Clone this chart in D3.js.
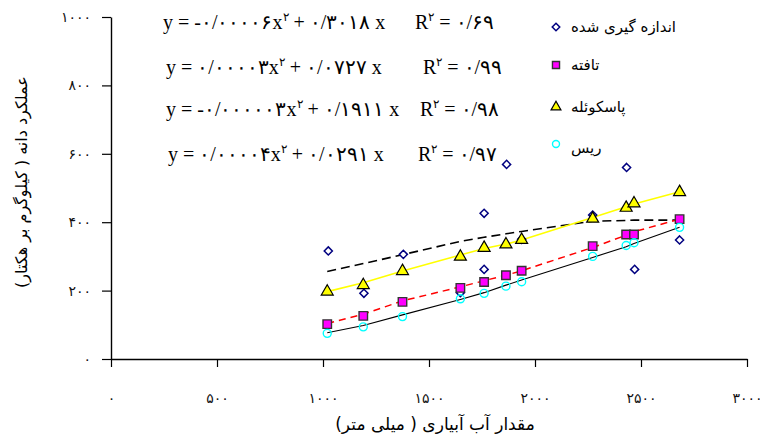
<!DOCTYPE html>
<html>
<head>
<meta charset="utf-8">
<script src="https://cdn.jsdelivr.net/npm/d3@7"></script>
<style>
  body { margin: 0; background: #fff; }
  svg { display: block; }
</style>
</head>
<body>
<div id="chart"></div>
<script>
// irrigation water (mm) shared by the three models
const irrigation = [1020, 1190, 1375, 1648, 1760, 1863, 1937, 2272, 2430, 2467, 2682];
const tafteh = [102, 126, 167, 208, 225, 245, 258, 330, 364, 364, 409];
const pascoele = [200, 219, 260, 302, 328, 338, 351, 413, 445, 458, 491];
const ris = [75, 94, 124, 176, 192, 213, 226, 300, 332, 340, 385];

// measured yield has its own points
const measuredX = [1025, 1193, 1379, 1648, 1760, 1760, 1866, 1937, 2272, 2432, 2470, 2682];
const measuredY = [316, 192, 306, 194, 426, 262, 569, 350, 421, 560, 262, 348];

// trend lines, at the irrigation values
const measuredFit = [256, 279, 305, 344, 356, 366, 373, 403, 405, 406, 406];
const taftehFit = [104, 131, 170, 211, 229, 245, 258, 326, 362, 372, 409];
const pascoeleFit = [197, 223, 257, 304, 323, 336, 348, 414, 445, 453, 489];
const risFit = [77, 98, 129, 174, 194, 216, 231, 297, 328, 338, 385];

const xTicks = [0, 500, 1000, 1500, 2000, 2500, 3000];
const yTicks = [0, 200, 400, 600, 800, 1000];

const legendLabels = ["اندازه گیری شده", "تافته", "پاسکوئله", "ریس"];
const eqA = ["-۰/۰۰۰۰۶", "۰/۰۰۰۰۳", "-۰/۰۰۰۰۰۳", "۰/۰۰۰۰۴"];
const eqB = ["۰/۳۰۱۸", "۰/۰۷۲۷", "۰/۱۹۱۱", "۰/۰۲۹۱"];
const rSquared = ["۰/۶۹", "۰/۹۹", "۰/۹۸", "۰/۹۷"];

const faDigits = "۰۱۲۳۴۵۶۷۸۹";
const fa = (v) => String(v).replace(/\d/g, (d) => faDigits[+d]);

const width = 760;
const height = 439;
const persian = "'DejaVu Sans', 'Noto Sans', sans-serif";

const svg = d3.select("#chart").append("svg")
  .attr("width", width)
  .attr("height", height);

const x = d3.scaleLinear().domain([0, 3000]).range([111, 747]);
const y = d3.scaleLinear().domain([0, 1000]).range([359, 17]);

// axes
const xAxis = svg.append("g")
  .attr("transform", `translate(0,${y(0)})`)
  .call(d3.axisBottom(x).tickValues(xTicks).tickSize(8).tickSizeOuter(0).tickFormat(fa));
xAxis.selectAll("text")
  .attr("y", 34)
  .attr("dy", "0.71em")
  .style("font-family", persian)
  .style("font-size", "14px")
  .style("fill", "#111");

const yAxis = svg.append("g")
  .attr("transform", `translate(${x(0)},0)`)
  .call(d3.axisLeft(y).tickValues(yTicks).tickSize(9).tickSizeOuter(0).tickPadding(11).tickFormat(fa));
yAxis.selectAll("text")
  .style("font-family", persian)
  .style("font-size", "14px")
  .style("fill", "#111");

svg.selectAll(".domain").attr("stroke", "#000").attr("stroke-width", 1.4);
svg.selectAll(".tick line").attr("stroke", "#000").attr("stroke-width", 1.2);

// axis titles
svg.append("text")
  .attr("x", 435)
  .attr("y", 430)
  .attr("text-anchor", "middle")
  .style("font-family", persian)
  .style("font-size", "17px")
  .text("مقدار آب آبیاری ( میلی متر)");

svg.append("text")
  .attr("transform", "translate(27,182) rotate(-90)")
  .attr("text-anchor", "middle")
  .style("font-family", persian)
  .style("font-size", "16px")
  .text("عملکرد دانه ( کیلوگرم بر هکتار)");

// trend lines
const line = d3.line()
  .x((d) => x(d[0]))
  .y((d) => y(d[1]));

const fits = [
  { values: measuredFit, stroke: "#000", width: 1.6, dash: "9,5" },
  { values: taftehFit, stroke: "#ff0000", width: 1.5, dash: "7,5" },
  { values: pascoeleFit, stroke: "#ffff00", width: 1.6, dash: null },
  { values: risFit, stroke: "#000", width: 1.1, dash: null },
];

svg.append("g")
  .selectAll("path")
  .data(fits)
  .join("path")
  .attr("d", (f) => line(d3.zip(irrigation, f.values)))
  .attr("fill", "none")
  .attr("stroke", (f) => f.stroke)
  .attr("stroke-width", (f) => f.width)
  .attr("stroke-dasharray", (f) => f.dash);

// markers
const diamond = d3.symbol().type(d3.symbolDiamond2).size(42);
const square = d3.symbol().type(d3.symbolSquare).size(72);
const triangle = d3.symbol().type(d3.symbolTriangle).size(62);

svg.append("g")
  .selectAll("path")
  .data(d3.zip(measuredX, measuredY))
  .join("path")
  .attr("transform", (d) => `translate(${x(d[0])},${y(d[1])})`)
  .attr("d", diamond)
  .attr("fill", "#fff")
  .attr("stroke", "#000080")
  .attr("stroke-width", 1.5);

svg.append("g")
  .selectAll("path")
  .data(d3.zip(irrigation, tafteh))
  .join("path")
  .attr("transform", (d) => `translate(${x(d[0])},${y(d[1])})`)
  .attr("d", square)
  .attr("fill", "#ff00ff")
  .attr("stroke", "#333")
  .attr("stroke-width", 1.4);

svg.append("g")
  .selectAll("path")
  .data(d3.zip(irrigation, pascoele))
  .join("path")
  .attr("transform", (d) => `translate(${x(d[0])},${y(d[1]) + 1})`)
  .attr("d", triangle)
  .attr("fill", "#ffff00")
  .attr("stroke", "#000")
  .attr("stroke-width", 1.2);

svg.append("g")
  .selectAll("circle")
  .data(d3.zip(irrigation, ris))
  .join("circle")
  .attr("cx", (d) => x(d[0]))
  .attr("cy", (d) => y(d[1]))
  .attr("r", 4)
  .attr("fill", "none")
  .attr("stroke", "#00ffff")
  .attr("stroke-width", 1.4);

// equations and R²
const eqRows = [23, 68, 110, 155];
const eqX = [163, 166, 166, 168];
const rX = [415, 423, 420, 418];
const eq = svg.append("g")
  .style("font-family", "'Liberation Serif', serif")
  .style("font-size", "20px")
  .attr("direction", "ltr");

eqRows.forEach((cy, i) => {
  const t = eq.append("text")
    .attr("x", eqX[i])
    .attr("y", cy + 6);
  t.append("tspan").text(`y = ${eqA[i]}x`);
  t.append("tspan").attr("dy", -8).style("font-size", "12px").text("۲");
  t.append("tspan").attr("dy", 8).text(` + ${eqB[i]} x`);

  const r = eq.append("text")
    .attr("x", rX[i])
    .attr("y", cy + 6);
  r.append("tspan").text("R");
  r.append("tspan").attr("dy", -8).style("font-size", "12px").text("۲");
  r.append("tspan").attr("dy", 8).text(` = ${rSquared[i]}`);
});

// legend
const legendRows = [27, 65, 107, 144];
const legend = svg.append("g");
const smallDiamond = d3.symbol().type(d3.symbolDiamond2).size(36);
const smallSquare = d3.symbol().type(d3.symbolSquare).size(50);
const smallTriangle = d3.symbol().type(d3.symbolTriangle).size(42);
const legendMarks = [
  (g) => g.append("path").attr("d", smallDiamond).attr("fill", "#fff").attr("stroke", "#000080").attr("stroke-width", 1.5),
  (g) => g.append("path").attr("d", smallSquare).attr("fill", "#ff00ff").attr("stroke", "#333").attr("stroke-width", 1.4),
  (g) => g.append("path").attr("d", smallTriangle).attr("fill", "#ffff00").attr("stroke", "#000").attr("stroke-width", 1.2),
  (g) => g.append("circle").attr("r", 3.5).attr("fill", "none").attr("stroke", "#00ffff").attr("stroke-width", 1.4),
];
legendRows.forEach((cy, i) => {
  const g = legend.append("g").attr("transform", `translate(556,${cy})`);
  legendMarks[i](g);
  legend.append("text")
    .attr("x", 571)
    .attr("y", cy + (i === 3 ? 9 : 5))
    .style("font-family", persian)
    .style("font-size", "15px")
    .text(legendLabels[i]);
});
</script>
</body>
</html>
